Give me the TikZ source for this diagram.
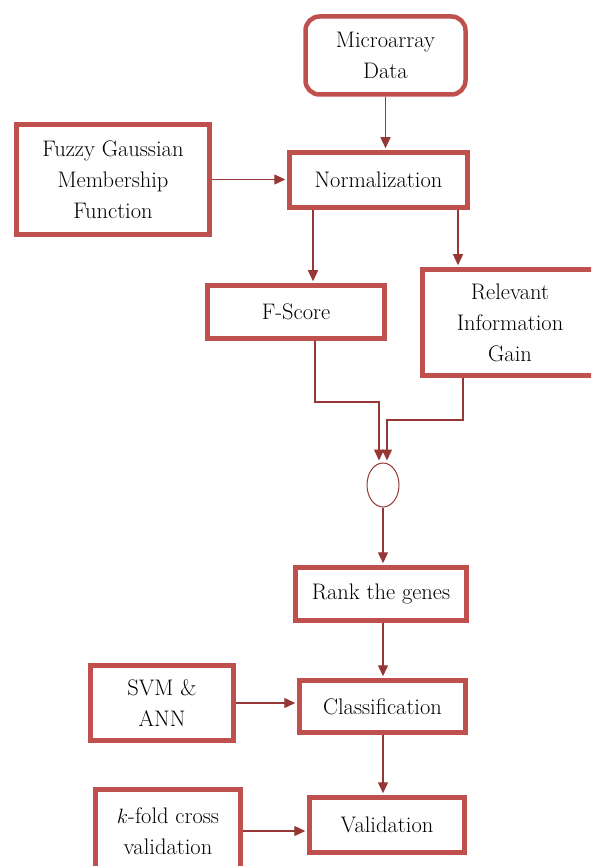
\documentclass[tikz,border=0pt]{standalone}
\usetikzlibrary{arrows.meta,shapes.geometric}

\definecolor{boxred}{RGB}{192,80,77}
\definecolor{arrred}{RGB}{150,55,53}

\begin{document}
\begin{tikzpicture}[x=1pt,y=-1pt,
  box/.style={draw=boxred, line width=4.5pt, fill=white, align=center,
    inner sep=0pt, font=\fontsize{22.5}{31}\selectfont},
  arr/.style={draw=arrred, line width=1.4pt, shorten >=2pt,
    -{Triangle[length=11pt,width=10pt]}}]

  \useasboundingbox (0,0) rectangle (591,866);
  \clip (0,0) rectangle (591,866);

  \coordinate (xfs) at (313,0);
  \coordinate (xrig) at (458,0);
  \coordinate (xfsout) at (315,0);
  \coordinate (xrigout) at (463,0);
  \coordinate (fsbend) at (379,402);
  \coordinate (rigbend) at (387,420);

  \node[box, rounded corners=14pt, minimum width=160, minimum height=78] (data) at (385.5,55.5) {Microarray\\Data};
  \node[box, minimum width=178, minimum height=55] (norm) at (378.5,180) {Normalization};
  \node[box, minimum width=193, minimum height=110] (fuzzy) at (113,179.5) {Fuzzy Gaussian\\Membership\\Function};
  \node[box, minimum width=177, minimum height=53] (fscore) at (296,312) {F-Score};
  \node[box, minimum width=175, minimum height=106] (rig) at (510,322.5) {Relevant\\Information\\Gain};
  \node[draw=arrred, line width=1pt, ellipse, inner sep=0pt, minimum width=32, minimum height=44] (join) at (383,485) {};
  \node[box, minimum width=171, minimum height=53] (rank) at (381,594) {Rank the genes};
  \node[box, minimum width=166, minimum height=52] (class) at (382.5,706.5) {Classification};
  \node[box, minimum width=143, minimum height=75] (svm) at (162,703) {SVM \&\\ANN};
  \node[box, minimum width=155, minimum height=55] (valid) at (387,825) {Validation};
  \node[box, minimum width=145, minimum height=83] (kfold) at (168,831) {$k$-fold cross\\validation};

  \draw[arr] (data.south) -- (data.south |- norm.north);
  \draw[arr] (fuzzy.east) -- (fuzzy.east -| norm.west);
  \draw[arr] (norm.south -| xfs) -- (fscore.north -| xfs);
  \draw[arr] (norm.south -| xrig) -- (rig.north -| xrig);
  \draw[arr] (fscore.south -| xfsout) |- (fsbend) -- (fsbend |- join.north);
  \draw[arr] (rig.south -| xrigout) |- (rigbend) -- (rigbend |- join.north);
  \draw[arr] (join.south) -- (join.south |- rank.north);
  \draw[arr] (rank.south -| join.south) -- (class.north -| join.south);
  \draw[arr] (class.south -| join.south) -- (valid.north -| join.south);
  \draw[arr] (svm.east) -- (svm.east -| class.west);
  \draw[arr] (kfold.east) -- (kfold.east -| valid.west);

\end{tikzpicture}
\end{document}
